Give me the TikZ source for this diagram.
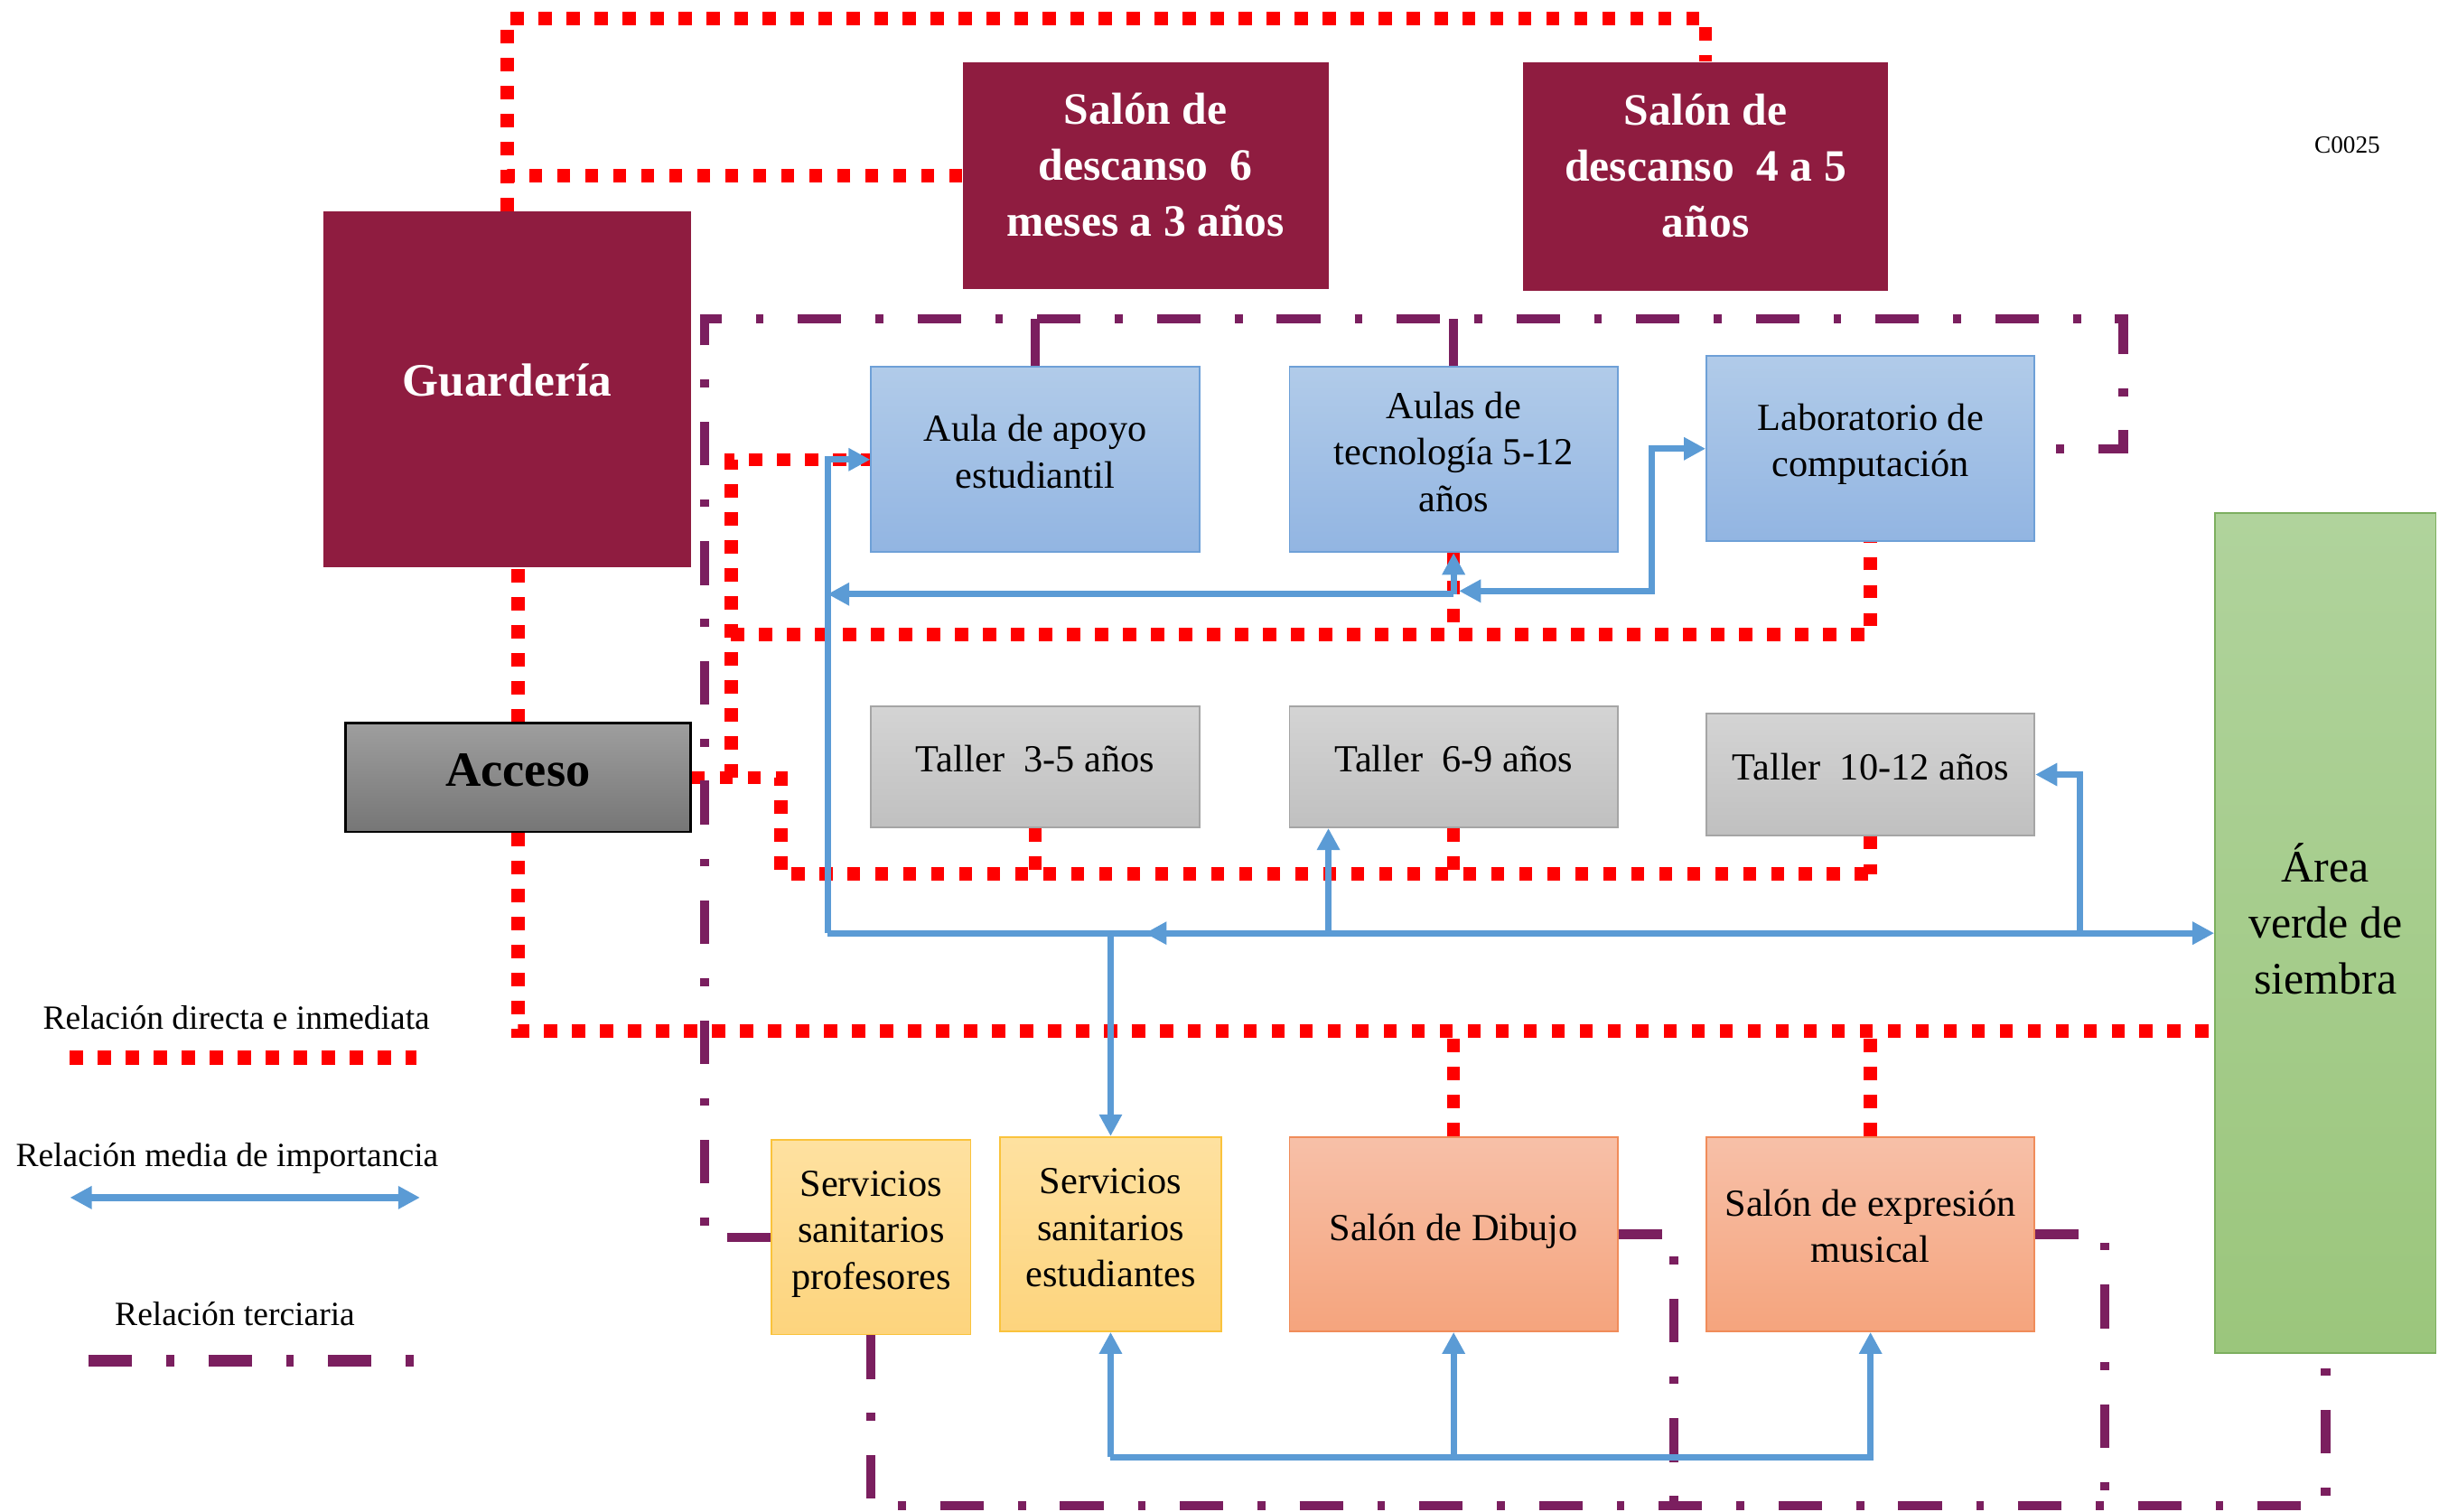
\documentclass[tikz,border=0pt]{standalone}
\usepackage{fontspec}
\setmainfont{Liberation Serif}
\usetikzlibrary{arrows.meta,calc}
\definecolor{maroon}{RGB}{143,28,64}
\definecolor{purp}{RGB}{123,31,95}
\definecolor{lblue}{RGB}{91,155,213}
\definecolor{bluetop}{RGB}{177,203,233}
\definecolor{bluebot}{RGB}{146,181,226}
\definecolor{blueedge}{RGB}{110,160,215}
\definecolor{graytop}{RGB}{212,212,212}
\definecolor{graybot}{RGB}{192,192,192}
\definecolor{grayedge}{RGB}{165,165,165}
\definecolor{acctop}{RGB}{158,158,158}
\definecolor{accbot}{RGB}{118,118,118}
\definecolor{greentop}{RGB}{176,211,156}
\definecolor{greenbot}{RGB}{155,198,124}
\definecolor{greenedge}{RGB}{125,175,95}
\definecolor{yeltop}{RGB}{254,225,160}
\definecolor{yelbot}{RGB}{253,212,125}
\definecolor{yeledge}{RGB}{250,195,60}
\definecolor{ortop}{RGB}{247,192,168}
\definecolor{orbot}{RGB}{245,164,125}
\definecolor{oredge}{RGB}{240,140,90}
\tikzset{
  box/.style={rectangle, inner sep=0pt},
  btxt/.style={align=center, text=black, inner sep=0pt, font=\fontsize{14}{17}\selectfont},
  wtxt/.style={align=center, text=white, inner sep=0pt, font=\fontsize{16.4}{20.5}\selectfont\bfseries},
  gtxt/.style={align=center, text=black, inner sep=0pt, font=\fontsize{16.5}{20.5}\selectfont},
  atxt/.style={align=center, text=black, inner sep=0pt, font=\fontsize{18}{21}\selectfont\bfseries},
  dark/.style={box, fill=maroon},
  accbox/.style={box, top color=acctop, bottom color=accbot, draw=black, line width=0.8pt},
  bluebox/.style={box, top color=bluetop, bottom color=bluebot, draw=blueedge, line width=0.6pt},
  graybox/.style={box, top color=graytop, bottom color=graybot, draw=grayedge, line width=0.6pt},
  greenbox/.style={box, top color=greentop, bottom color=greenbot, draw=greenedge, line width=0.6pt},
  yelbox/.style={box, top color=yeltop, bottom color=yelbot, draw=yeledge, line width=0.6pt},
  orbox/.style={box, top color=ortop, bottom color=orbot, draw=oredge, line width=0.6pt},
  redl/.style={draw=red, line width=0.17cm, dash pattern=on 0.17cm off 0.19cm},
  purl/.style={draw=purp, line width=0.12cm, dash pattern=on 0.56cm off 0.44cm on 0.1cm off 0.44cm},
  purs/.style={draw=purp, line width=0.12cm},
  bl/.style={draw=lblue, line width=0.08cm, -{Triangle[length=0.28cm,width=0.28cm]}},
  blb/.style={draw=lblue, line width=0.08cm, {Triangle[length=0.28cm,width=0.28cm]}-{Triangle[length=0.28cm,width=0.28cm]}},
  legtext/.style={font=\fontsize{12.4}{15}\selectfont, inner sep=1pt}
}
\begin{document}
\begin{tikzpicture}[x=0.02cm,y=-0.02cm]
\useasboundingbox (0,0) rectangle (1568,972);

% nodes
\node[dark, minimum width=4.72cm, minimum height=4.58cm,
  label={[wtxt, yshift=0.12cm, font=\fontsize{17}{20.5}\selectfont\bfseries]center:{Guardería}}] (g) at (326,250.5) {};
\node[dark, minimum width=4.70cm, minimum height=2.92cm,
  label={[wtxt, yshift=0.14cm]center:{Salón de\\descanso~~6\\meses a 3 años}}] (s6) at (736.5,113) {};
\node[dark, minimum width=4.70cm, minimum height=2.94cm,
  label={[wtxt, yshift=0.14cm]center:{Salón de\\descanso~~4 a 5\\años}}] (s45) at (1096.5,113.5) {};
\node[accbox, minimum width=4.44cm, minimum height=1.40cm,
  label={[atxt, yshift=0.1cm]center:{Acceso}}] (acc) at (333,500) {};
\node[bluebox, minimum width=4.22cm, minimum height=2.38cm,
  label={[btxt, yshift=0.1cm]center:{Aula de apoyo\\estudiantil}}] (aula) at (665.5,295.5) {};
\node[bluebox, minimum width=4.22cm, minimum height=2.38cm,
  label={[btxt, yshift=0.1cm]center:{Aulas de\\tecnología 5-12\\años}}] (tec) at (934.5,295.5) {};
\node[bluebox, minimum width=4.22cm, minimum height=2.38cm,
  label={[btxt, yshift=0.06cm]center:{Laboratorio de\\computación}}] (lab) at (1202.5,288.5) {};
\node[graybox, minimum width=4.22cm, minimum height=1.56cm,
  label={[btxt, yshift=0.1cm]center:{Taller~~3-5 años}}] (t35) at (665.5,493) {};
\node[graybox, minimum width=4.22cm, minimum height=1.56cm,
  label={[btxt, yshift=0.1cm]center:{Taller~~6-9 años}}] (t69) at (934.5,493) {};
\node[graybox, minimum width=4.22cm, minimum height=1.56cm,
  label={[btxt, yshift=0.1cm]center:{Taller~~10-12 años}}] (t1012) at (1202.5,498) {};
\node[greenbox, minimum width=2.84cm, minimum height=10.8cm,
  label={[gtxt, yshift=0.18cm]center:{Área\\verde de\\siembra}}] (area) at (1495,600) {};
\node[yelbox, minimum width=2.56cm, minimum height=2.5cm,
  label={[btxt, yshift=0.04cm]center:{Servicios\\sanitarios\\profesores}}] (sp) at (560,795.5) {};
\node[yelbox, minimum width=2.84cm, minimum height=2.5cm,
  label={[btxt, yshift=0.08cm]center:{Servicios\\sanitarios\\estudiantes}}] (se) at (714,793.5) {};
\node[orbox, minimum width=4.22cm, minimum height=2.5cm,
  label={[btxt, yshift=0.04cm]center:{Salón de Dibujo}}] (dib) at (934.5,793.5) {};
\node[orbox, minimum width=4.22cm, minimum height=2.5cm,
  label={[btxt, yshift=0.1cm]center:{Salón de expresión\\musical}}] (exp) at (1202.5,793.5) {};
\node[font=\fontsize{9}{11}\selectfont, inner sep=1pt] (code) at (1509,93) {C0025};

% red connectors
\coordinate (rt1) at (326,12);
\draw[redl] (s6.west) -| (rt1) -| (s45.north);
\draw[redl] (g.north) -- (g.north |- s6.west);
\draw[redl] (acc.north) -- (acc.north |- g.south);
\coordinate (rb) at (1424,663);
\draw[redl] (acc.south) |- (rb);
\draw[redl] (dib.north) -- (dib.north |- rb);
\draw[redl] (exp.north) -- (exp.north |- rb);
\coordinate (ra1) at (470,500);
\coordinate (ra2) at (502,500);
\coordinate (rm) at (1205,562);
\draw[redl] (acc.east) -- (ra2) |- (rm);
\draw[redl] (t35.south) -- (t35.south |- rm);
\draw[redl] (t69.south) -- (t69.south |- rm);
\draw[redl] (t1012.south) -- (t1012.south |- rm);
\draw[redl] (ra1) |- (aula.west);
\coordinate (ru) at (470,408);
\draw[redl] (ru) -| (lab.south);
\draw[redl] (tec.south) -- (tec.south |- ru);

% purple connectors
\coordinate (ptl) at (453,205);
\coordinate (ptr) at (1365,205);
\draw[purl] (sp.west) -| (ptl) -- (ptr) |- (lab.east);
\draw[purs] (aula.north) -- (aula.north |- ptl);
\draw[purs] (tec.north) -- (tec.north |- ptl);
\coordinate (pb) at (1495,968);
\draw[purl] (sp.south) |- (pb) -- (area.south);
\coordinate (pd) at (1076,968);
\draw[purl] (dib.east) -| (pd);
\coordinate (pe) at (1353,968);
\draw[purl] (exp.east) -| (pe);

% blue connectors
\coordinate (bj) at (532,600);
\draw[bl] (bj) |- (aula.west);
\draw[bl] (bj) -- (area.west);
\coordinate (bt) at (934.5,382);
\draw[bl] (bt) -- (tec.south);
\draw[bl] (bt) -- (bt -| bj);
\coordinate (bl1) at (938,380);
\coordinate (bl2) at (1062,380);
\draw[blb] (bl1) -- (bl2) |- (lab.west);
\coordinate (b69) at (854,600);
\draw[bl] (b69) -- (b69 |- t69.south);
\coordinate (b1012) at (1337,600);
\draw[bl] (b1012) |- (t1012.east);
\coordinate (bla) at (736,600);
\draw[bl] (b1012) -- (bla);
\draw[bl] (se.north |- bj) -- (se.north);
\coordinate (bb) at (714,937);
\draw[bl] (bb) -- (se.south);
\draw[bl] (bb) -| (exp.south);
\draw[bl] (dib.south |- bb) -- (dib.south);

% legend
\node[legtext] (lg1) at (152,654) {Relación directa e inmediata};
\node[legtext] (lg2) at (146,745) {Relación media de importancia};
\node[legtext] (lg3) at (151,845) {Relación terciaria};
\coordinate (l1a) at (45,680);
\coordinate (l1b) at (268,680);
\draw[redl, line width=0.19cm] (l1a) -- (l1b);
\coordinate (l2a) at (45,770);
\coordinate (l2b) at (270,770);
\draw[blb, line width=0.1cm] (l2a) -- (l2b);
\coordinate (l3a) at (57,875);
\coordinate (l3b) at (268,875);
\draw[purl, line width=0.15cm] (l3a) -- (l3b);
\end{tikzpicture}
\end{document}
